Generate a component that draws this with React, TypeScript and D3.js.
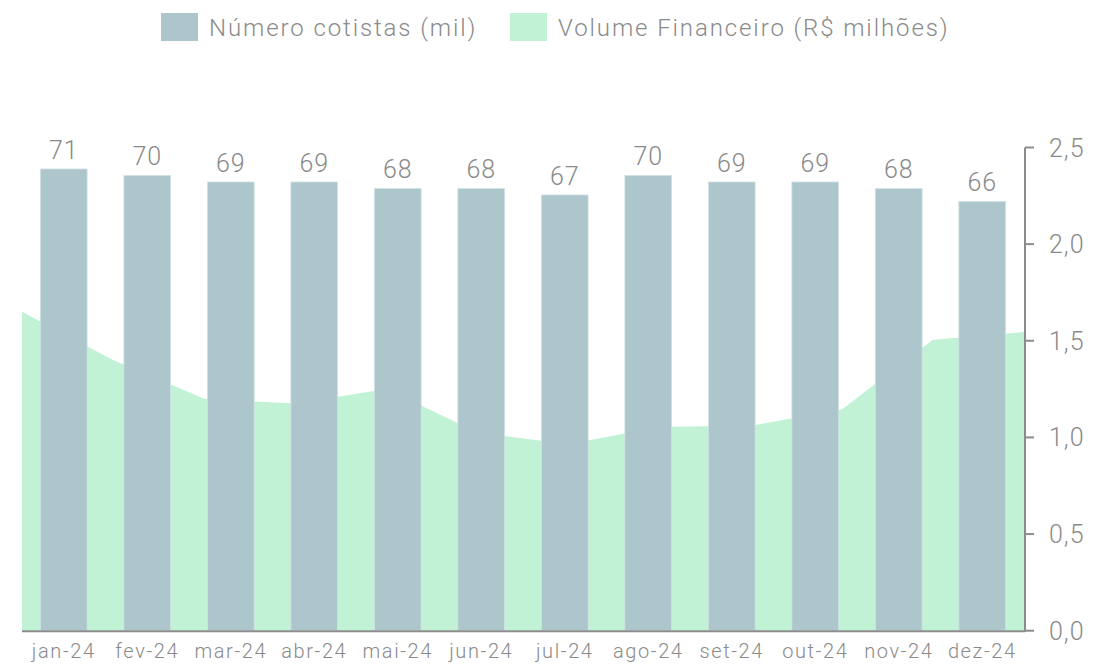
import { useEffect, useRef } from 'react';
import * as d3 from 'd3';

const WIDTH = 1117;
const HEIGHT = 664;

const months = ['jan-24', 'fev-24', 'mar-24', 'abr-24', 'mai-24', 'jun-24', 'jul-24', 'ago-24', 'set-24', 'out-24', 'nov-24', 'dez-24'];
const cotistas = [71, 70, 69, 69, 68, 68, 67, 70, 69, 69, 68, 66];
const volume = [1.65, 1.4, 1.2, 1.175, 1.25, 1.025, 0.965, 1.055, 1.06, 1.145, 1.505, 1.545];
const rightTicks = [0, 0.5, 1, 1.5, 2, 2.5];
const legendItems = ['Número cotistas (mil)', 'Volume Financeiro (R$ milhões)'];

const BAR_COLOR = '#adc6cc';
const AREA_COLOR = '#c2f2d5';
const TEXT_COLOR = '#8a8a8a';
const AXIS_COLOR = '#8c8c8c';
const FONT = 'Roboto, "Noto Sans", sans-serif';

export default function App() {
  const svgRef = useRef<SVGSVGElement | null>(null);

  useEffect(() => {
    document.body.style.margin = '0';
    if (!svgRef.current) return;
    const svg = d3.select(svgRef.current);
    svg.selectAll('*').remove();

    const margin = { top: 147.5, right: 93, bottom: 33.3, left: 22 };
    const left = margin.left;
    const right = WIDTH - margin.right;
    const bottom = HEIGHT - margin.bottom;

    const xBand = d3.scaleBand<string>().domain(months).range([left, right]).padding(0);
    const xPoint = d3.scalePoint<string>().domain(months).range([left, right]).padding(0);
    const yBars = d3.scaleLinear().domain([0, 74.3]).range([bottom, margin.top]);
    const yVol = d3.scaleLinear().domain([0, 2.5]).range([bottom, margin.top]);

    const barWidth = xBand.bandwidth() * 0.56;

    // area (right axis)
    const area = d3
      .area<number>()
      .x((_, i) => xPoint(months[i]) ?? 0)
      .y0(bottom)
      .y1((d) => yVol(d));

    svg.append('path').datum(volume).attr('d', area).attr('fill', AREA_COLOR);

    // bars
    svg
      .append('g')
      .selectAll('rect')
      .data(cotistas)
      .enter()
      .append('rect')
      .attr('x', (_, i) => (xBand(months[i]) ?? 0) + (xBand.bandwidth() - barWidth) / 2)
      .attr('y', (d) => yBars(d))
      .attr('width', barWidth)
      .attr('height', (d) => bottom - yBars(d))
      .attr('fill', BAR_COLOR)
      .attr('stroke', '#d3e2e5')
      .attr('stroke-width', 0.8);

    // bar labels
    svg
      .append('g')
      .selectAll('text')
      .data(cotistas)
      .enter()
      .append('text')
      .attr('x', (_, i) => (xBand(months[i]) ?? 0) + xBand.bandwidth() / 2)
      .attr('y', (d) => yBars(d) - 10)
      .attr('text-anchor', 'middle')
      .attr('fill', TEXT_COLOR)
      .attr('font-family', FONT)
      .attr('font-weight', 300)
      .attr('font-size', 25)
      .attr('letter-spacing', 1)
      .text((d) => d);

    // bottom axis line
    svg
      .append('line')
      .attr('x1', left)
      .attr('x2', right + 1)
      .attr('y1', bottom + 0.5)
      .attr('y2', bottom + 0.5)
      .attr('stroke', AXIS_COLOR)
      .attr('stroke-width', 2);

    // x labels
    svg
      .append('g')
      .selectAll('text')
      .data(months)
      .enter()
      .append('text')
      .attr('x', (d) => (xBand(d) ?? 0) + xBand.bandwidth() / 2)
      .attr('y', bottom + 27)
      .attr('text-anchor', 'middle')
      .attr('fill', TEXT_COLOR)
      .attr('font-family', FONT)
      .attr('font-weight', 300)
      .attr('font-size', 20)
      .attr('letter-spacing', 1.6)
      .text((d) => d);

    // right axis
    const axisX = right + 1;
    svg
      .append('line')
      .attr('x1', axisX)
      .attr('x2', axisX)
      .attr('y1', yVol(2.5))
      .attr('y2', bottom + 1)
      .attr('stroke', AXIS_COLOR)
      .attr('stroke-width', 2);

    const ticks = svg.append('g').selectAll('g').data(rightTicks).enter().append('g');
    ticks
      .append('line')
      .attr('x1', axisX)
      .attr('x2', axisX + 9)
      .attr('y1', (d) => yVol(d))
      .attr('y2', (d) => yVol(d))
      .attr('stroke', AXIS_COLOR)
      .attr('stroke-width', 2);
    ticks
      .append('text')
      .attr('x', axisX + 24)
      .attr('y', (d) => yVol(d))
      .attr('dy', '0.36em')
      .attr('fill', TEXT_COLOR)
      .attr('font-family', FONT)
      .attr('font-weight', 300)
      .attr('font-size', 25)
      .attr('letter-spacing', 1)
      .text((d) => d3.format('.1f')(d).replace('.', ','));

    // legend
    const legend = svg.append('g').attr('transform', 'translate(161, 13)');
    const colors = [BAR_COLOR, AREA_COLOR];
    const offsets = [0, 349];
    legendItems.forEach((label, i) => {
      const g = legend.append('g').attr('transform', `translate(${offsets[i]}, 0)`);
      g.append('rect').attr('width', 37).attr('height', 28).attr('fill', colors[i]);
      g.append('text')
        .attr('x', 48)
        .attr('y', 14)
        .attr('dy', '0.36em')
        .attr('fill', TEXT_COLOR)
        .attr('font-family', FONT)
        .attr('font-weight', 300)
        .attr('font-size', 24)
        .attr('letter-spacing', 1.9)
        .text(label);
    });
  }, []);

  return (
    <svg
      ref={svgRef}
      width={WIDTH}
      height={HEIGHT}
      viewBox={`0 0 ${WIDTH} ${HEIGHT}`}
      style={{ display: 'block', background: '#ffffff' }}
    />
  );
}
